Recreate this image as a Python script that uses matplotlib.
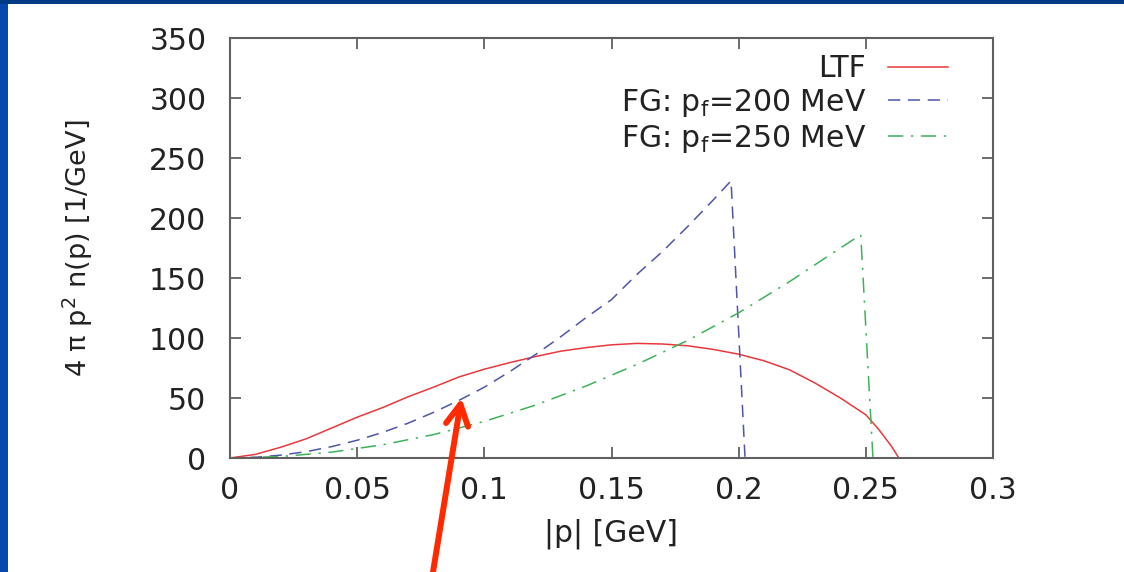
import matplotlib
matplotlib.use("Agg")
import matplotlib.pyplot as plt
from matplotlib.patches import Rectangle

# momentum grid |p| [GeV] and 4 pi p^2 n(p) [1/GeV]
ltf_p = [0, 0.01, 0.02, 0.03, 0.04, 0.05, 0.06, 0.07, 0.08, 0.09, 0.1, 0.11,
         0.12, 0.13, 0.14, 0.15, 0.16, 0.17, 0.18, 0.19, 0.2, 0.21, 0.22,
         0.23, 0.24, 0.25, 0.255, 0.26, 0.263, 0.3]
ltf_n = [0, 3, 9, 16, 25, 34, 42, 51, 59, 67.5, 74, 79.5,
         84.5, 89, 92, 94.3, 95.5, 95, 93.5, 90.5, 86.5, 81, 73.5,
         62.5, 50, 36, 24, 10, 0, 0]

fg200_p = [0, 0.01, 0.02, 0.03, 0.04, 0.05, 0.06, 0.07, 0.08, 0.09, 0.1,
           0.11, 0.12, 0.13, 0.14, 0.15, 0.16, 0.17, 0.18, 0.19, 0.197,
           0.2025, 0.3]
fg200_n = [0, 0.6, 2.4, 5.3, 9.5, 14.8, 21.3, 29, 38, 48, 59,
           72, 86, 101, 117, 132, 153, 172, 193, 215, 231,
           0, 0]

fg250_p = [0, 0.02, 0.04, 0.06, 0.08, 0.1, 0.12, 0.14, 0.16, 0.18, 0.2,
           0.22, 0.24, 0.248, 0.2528, 0.3]
fg250_n = [0, 1.2, 4.9, 11, 19.5, 30.5, 44, 60, 78, 98, 121,
           147, 175, 186, 0, 0]

labels = ["LTF", r"FG: p$_{f}$=200 MeV", r"FG: p$_{f}$=250 MeV"]
xticks = [0, 0.05, 0.1, 0.15, 0.2, 0.25, 0.3]
xticklabels = ["0", "0.05", "0.1", "0.15", "0.2", "0.25", "0.3"]
yticks = [0, 50, 100, 150, 200, 250, 300, 350]

plt.rcParams['font.family'] = ['DejaVu Sans']
plt.rcParams['mathtext.default'] = 'regular'
txt = '#222222'
frame = '#606060'
fs = 21.5

fig = plt.figure(figsize=(11.24, 5.72), dpi=100, facecolor='white')
ax = fig.add_axes([230 / 1124, 1 - 458 / 572, 763 / 1124, 420 / 572])

ax.plot(ltf_p, ltf_n, color='#e8383d', lw=1.1, label=labels[0])
ax.plot(fg200_p, fg200_n, color='#4f55a8', lw=1.1, linestyle=(0, (8, 5)),
        label=labels[1])
ax.plot(fg250_p, fg250_n, color='#3cb35a', lw=1.1,
        linestyle=(0, (10, 5, 1.5, 5)), label=labels[2])

ax.set_xlim(0, 0.3)
ax.set_ylim(0, 350)
ax.set_xticks(xticks)
ax.set_xticklabels(xticklabels)
ax.set_yticks(yticks)
ax.tick_params(direction='in', length=8, width=1.3, color=frame,
               top=True, right=True, labelsize=fs, labelcolor=txt)
ax.tick_params(axis='x', pad=13)
ax.tick_params(axis='y', pad=17)
for s in ax.spines.values():
    s.set_color(frame)
    s.set_linewidth(1.5)

ax.set_xlabel("|p| [GeV]", fontsize=fs, color=txt)
ax.set_ylabel(r"4 π p$^{2}$ n(p) [1/GeV]", fontsize=19.5, color=txt)
ax.xaxis.set_label_coords(0.5, -0.143)
ax.yaxis.set_label_coords(-0.177, 0.5)

leg = ax.legend(loc='upper right', bbox_to_anchor=(0.941, 0.962),
                markerfirst=False, frameon=False, fontsize=fs,
                handlelength=2.0, handletextpad=0.75, labelspacing=0.13,
                borderaxespad=0, borderpad=0)
for t in leg.get_texts():
    t.set_color(txt)

# red arrow pointing at the FG 200 MeV curve
ax.annotate("", xy=(0.091, 50), xycoords='data',
            xytext=(433 / 1124, 0), textcoords='figure fraction',
            annotation_clip=False,
            arrowprops=dict(arrowstyle="->,head_length=0.75,head_width=0.4",
                            color='#ff2a00', lw=4.3, mutation_scale=20,
                            shrinkA=0, shrinkB=0))

# slide frame (blue strips on left and top)
fig.add_artist(Rectangle((0, 0), 8 / 1124, 1, transform=fig.transFigure,
                         color='#0847ad', lw=0))
fig.add_artist(Rectangle((0, 1 - 4 / 572), 1, 4 / 572,
                         transform=fig.transFigure, color='#023a86', lw=0))

fig.savefig("out.png", dpi=100, facecolor='white')
